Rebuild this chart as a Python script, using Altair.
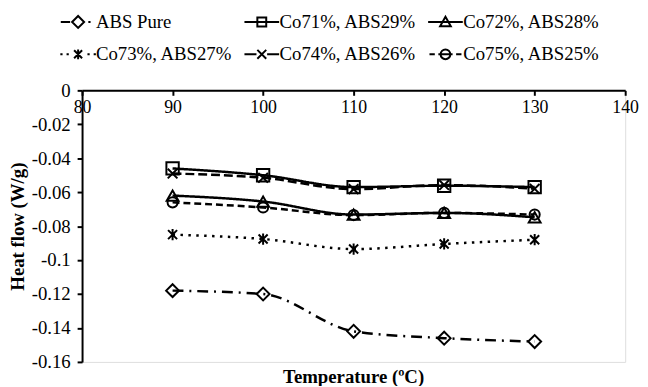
import altair as alt
import pandas as pd

temperature = [90, 100, 110, 120, 130]
series_names = ["ABS Pure", "Co71%, ABS29%", "Co72%, ABS28%",
                "Co73%, ABS27%", "Co74%, ABS26%", "Co75%, ABS25%"]
abs_pure = [-0.118, -0.120, -0.142, -0.146, -0.148]
co71 = [-0.046, -0.050, -0.057, -0.0562, -0.057]
co72 = [-0.062, -0.0655, -0.0732, -0.0722, -0.0748]
co73 = [-0.085, -0.0876, -0.0935, -0.0905, -0.088]
co74 = [-0.049, -0.0515, -0.0582, -0.0558, -0.058]
co75 = [-0.066, -0.069, -0.0735, -0.0722, -0.0732]
x_ticks = [80, 90, 100, 110, 120, 130, 140]
y_ticks = [0, -0.02, -0.04, -0.06, -0.08, -0.1, -0.12, -0.14, -0.16]

all_series = [abs_pure, co71, co72, co73, co74, co75]
rows = []
for name, vals in zip(series_names, all_series):
    for t, v in zip(temperature, vals):
        rows.append({"Temperature": t, "HeatFlow": v, "Series": name})
df = pd.DataFrame(rows)

dashes = [[11, 6, 2, 6], [1, 0], [1, 0], [2.5, 5.5], [9, 4], [7, 4]]
star = "M0,-1L0,1M-0.8,-0.8L0.8,0.8M-0.8,0.8L0.8,-0.8"
xcross = "M-0.9,-0.9L0.9,0.9M-0.9,0.9L0.9,-0.9"
markers = ["diamond", "square", "triangle-up", star, xcross, "circle"]
marker_sizes = [170, 105, 150, 120, 110, 125]

legend_paths = [
    "M-3.9,0L-1.8,0M-1.35,0L0,-1.35L1.35,0L0,1.35ZM2.3,0L2.8,0",
    "M-3.9,0L3.9,0M-1,-1L1,-1L1,1L-1,1Z",
    "M-3.9,0L3.9,0M0,-1.15L1.2,0.95L-1.2,0.95Z",
    "M-4,0L-3.5,0M-2.6,0L-2.1,0M0,-1.1L0,1.1M-0.9,-0.9L0.9,0.9M-0.9,0.9L0.9,-0.9M2.1,0L2.6,0M3.5,0L4,0",
    "M-3.9,0L-1.2,0M1.2,0L3.9,0M-1,-1L1,1M-1,1L1,-1",
    "M-3.6,0L-2.4,0M-1.6,0L1.6,0M2.4,0L3.6,0M-1.1,0A1.1,1.1,0,1,1,1.1,0A1.1,1.1,0,1,1,-1.1,0Z",
]

FONT = "Liberation Serif"

x_enc = alt.X(
    "Temperature:Q",
    scale=alt.Scale(domain=[80, 140], nice=False, zero=False),
    axis=alt.Axis(
        orient="bottom", offset=-275, values=x_ticks, format="d", title=None,
        labelFont=FONT, labelFontSize=18, labelColor="black", labelPadding=3,
        labelFlush=False, labelOverlap=False, tickSize=5, tickWidth=2,
        tickColor="black", domainColor="black", domainWidth=2, grid=False,
    ),
)
y_enc = alt.Y(
    "HeatFlow:Q",
    scale=alt.Scale(domain=[-0.16, 0], nice=False, zero=False),
    axis=alt.Axis(
        values=y_ticks,
        labelExpr="replace(format(datum.value, '~g'), '−', '-')",
        labelFont=FONT, labelFontSize=19, labelColor="black", labelPadding=7,
        tickSize=5, tickWidth=2, tickColor="black", domainColor="black",
        domainWidth=2, grid=False,
        title="Heat flow (W/g)", titleFont=FONT, titleFontSize=19,
        titleFontWeight="bold", titleColor="black", titleAngle=270,
        titleX=-65, titleY=137.5, titleAlign="center", titleBaseline="middle",
    ),
)

base = alt.Chart(df)

lines = base.mark_line(interpolate="monotone", color="black", strokeWidth=2.5).encode(
    x=x_enc, y=y_enc,
    strokeDash=alt.StrokeDash("Series:N", scale=alt.Scale(domain=series_names, range=dashes), legend=None),
)

points = base.mark_point(filled=False, color="black", strokeWidth=2, opacity=1).encode(
    x=x_enc, y=y_enc,
    shape=alt.Shape("Series:N", scale=alt.Scale(domain=series_names, range=markers), legend=None),
    size=alt.Size("Series:N", scale=alt.Scale(domain=series_names, range=marker_sizes), legend=None),
)

legend_layer = base.mark_point(filled=False, color="black", strokeWidth=2, opacity=1).encode(
    shape=alt.Shape(
        "Series:N",
        scale=alt.Scale(domain=series_names, range=legend_paths),
        legend=alt.Legend(
            title=None, orient="none", legendX=-13.5, legendY=-79, columns=3,
            direction="horizontal", padding=0,
            symbolSize=81, symbolStrokeWidth=2, symbolStrokeColor="black",
            symbolFillColor="transparent", symbolOpacity=1,
            labelFont=FONT, labelFontSize=19, labelColor="black",
            labelOffset=8.5, columnPadding=7, rowPadding=13,
        ),
    ),
).transform_filter("false")

chart = alt.layer(lines, points, legend_layer).resolve_scale(
    shape="independent"
).properties(
    width=550, height=275,
    padding={"left": 75, "top": 81, "right": 15, "bottom": 22},
    autosize=alt.AutoSizeParams(type="none"),
    title=alt.TitleParams(
        "Temperature (ºC)", orient="bottom", frame="group", anchor="middle",
        offset=-4, font=FONT, fontSize=19, fontWeight="bold", color="black",
        baseline="top",
    ),
).configure_view(stroke=None).configure(background="white")

chart.save("out.html", embed_options={"renderer": "svg", "actions": False})
